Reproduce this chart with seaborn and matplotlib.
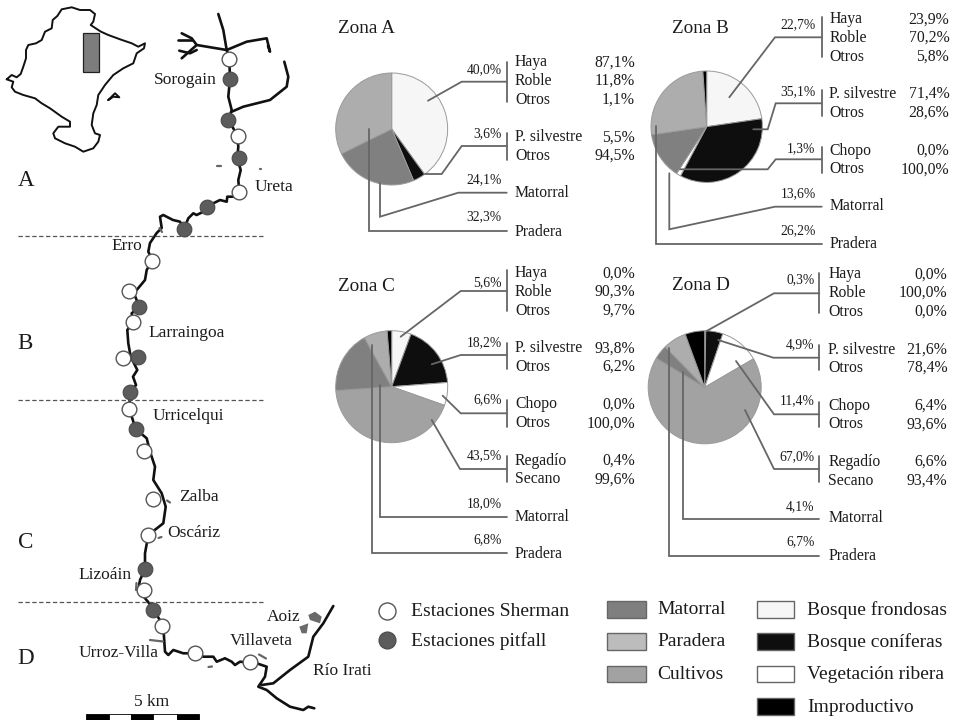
import matplotlib
matplotlib.use('Agg')
import matplotlib.pyplot as plt
from matplotlib.patches import Rectangle, Polygon
import seaborn as sns
import pandas as pd

# pie values, % of surface per zone
zona_a_vals = [40.0, 3.6, 24.1, 32.3]
zona_a_cats = ['frondosas', 'coniferas', 'matorral', 'pradera']
zona_b_vals = [22.7, 35.1, 1.3, 13.6, 26.2, 1.1]
zona_b_cats = ['frondosas', 'coniferas', 'ribera', 'matorral', 'pradera', 'improductivo']
zona_c_vals = [5.6, 18.2, 6.6, 43.5, 18.0, 6.8, 1.3]
zona_c_cats = ['frondosas', 'coniferas', 'ribera', 'cultivos', 'matorral', 'pradera', 'improductivo']
zona_d_vals = [0.3, 4.9, 11.4, 67.0, 4.1, 6.7, 5.6]
zona_d_cats = zona_c_cats

colores = {'frondosas': '#f6f6f6', 'coniferas': '#0e0e0e', 'ribera': '#ffffff', 'matorral': '#808080',
           'pradera': '#adadad', 'cultivos': '#a2a2a2', 'improductivo': '#000000'}

# map: river and outline, in picture pixels
rio_x = [226.7, 229.3, 230, 228.3, 231.7, 228.3, 233.3, 237.3, 238.3, 237.3, 240.7, 238.3, 239.3, 233.3, 227.3, 226.7, 220, 213.3, 207.3, 203.3, 196.7, 193.3, 188.3, 184.3, 180, 173, 163.3, 160, 161.7, 156.7, 150, 148.3, 152.3, 146.7, 145, 136.7, 133, 139.3, 131.7, 132.7, 127.3, 128.3, 130.7, 137.3, 133, 136, 130, 129.3, 135.7, 146.7, 150, 155, 153.3, 161.7, 165.7, 163.3, 148.3, 145, 145, 140, 138.3, 153.3, 163.3, 165, 168.3, 173.3, 183.3, 195, 203.3, 213.3, 216.7, 225, 231.7, 235, 240, 250, 256.7, 266.7, 265, 258.3, 266.7, 276.7, 290, 303.3, 308.3, 314.3]
rio_y = [50, 58.3, 79.3, 96.7, 110, 120, 128.3, 136, 146.7, 158.3, 170, 180, 191.7, 196.7, 196.7, 201.7, 200, 203.3, 206.7, 211.7, 215, 213.3, 218.3, 228.3, 221.7, 220, 215, 216.7, 228, 233, 243, 251.7, 260, 270, 280, 290, 291, 306.7, 313.3, 322.3, 330, 343.3, 356.7, 370, 376.7, 385, 392.3, 409, 429, 438.3, 451.7, 466.7, 480, 493.3, 506.7, 523.3, 535, 553.3, 569.3, 580, 590, 608.3, 626.7, 651.7, 655, 650, 653.3, 653.3, 656.7, 656.7, 661.7, 658.3, 661.7, 665, 661.7, 662.7, 663.3, 666.7, 676.7, 686.7, 690, 698.3, 706.7, 710, 706.7, 708.3]
irati_x = [333.3, 323.3, 313.3, 308.3, 290, 273.3, 261.7]
irati_y = [606, 623.3, 636.7, 656.7, 670, 683.3, 685]
afl_1_x = [218.3, 223.3, 226.7]
afl_1_y = [14, 30, 50]
afl_2_x = [226.7, 246.7, 266.7, 270, 268]
afl_2_y = [50, 41.7, 38.3, 51.7, 46]
afl_3_x = [226.7, 196.7, 181.7]
afl_3_y = [50, 45, 58.3]
afl_4_x = [196.7, 191.7, 181.7]
afl_4_y = [45, 38.3, 33.3]
afl_5_x = [191.7, 178.3]
afl_5_y = [40, 40]
afl_6_x = [196.7, 190, 179.3]
afl_6_y = [50, 53.3, 50.7]
afl_7_x = [231.7, 243.3, 270, 286.7, 288.3, 284.3]
afl_7_y = [111.7, 106.7, 100, 86.7, 76.7, 61.7]
navarra_x = [6.7, 11.7, 16.7, 20.7, 23.3, 26, 26, 28.3, 36, 41.7, 45, 51.7, 52.7, 57.3, 61.7, 71.7, 80, 90, 95, 93.3, 90.7, 98.3, 101, 108.3, 120, 131.7, 138.3, 145, 144, 136.7, 133.3, 123.3, 113.3, 105, 98.3, 96.7, 93.3, 91.7, 95, 100, 98.3, 93.3, 83.3, 75, 65, 55, 53.3, 58.3, 70, 70, 61.7, 50, 41.7, 35, 23.3, 15, 11.7, 13.3, 6.7]
navarra_y = [79.3, 75, 77.3, 74, 66.7, 58.3, 50, 45, 43.3, 40, 31.7, 28.3, 20, 16, 9.3, 7.3, 10, 10, 14, 21.7, 25, 30, 31.7, 35, 39.3, 43.3, 46.7, 43.3, 48.3, 53.3, 63.3, 68.3, 75, 85, 95, 105, 113.3, 125, 133.3, 135, 141.7, 148.3, 151.7, 146.7, 143.3, 138.3, 133.3, 126.7, 126.7, 121.7, 116.7, 108.3, 103.3, 98.3, 95, 91.7, 87.3, 81.7, 79.3]
enclave_x = [108.3, 115, 119.3, 113.3, 108.3]
enclave_y = [100, 93.3, 97.3, 96.7, 100]

sherman_x = [229.3, 237.7, 239.3, 152.3, 129.3, 132.7, 122.7, 129.3, 144.3, 152.7, 147.7, 144.3, 162.3, 195, 250]
sherman_y = [59.3, 135.7, 191.7, 260.7, 291, 322.3, 358.3, 409, 451, 499, 535, 590, 626, 653.3, 662.3]
pitfall_x = [230, 228.3, 238.7, 207.3, 184, 139.3, 137.7, 130, 135.7, 145, 153.3]
pitfall_y = [79.3, 120, 158.3, 206.7, 229, 306.7, 357.3, 392.3, 429, 569.3, 610]

plt.rcParams['figure.dpi'] = 100
sns.set_theme(style='white')
plt.rcParams['font.family'] = ['Liberation Serif', 'DejaVu Sans']

fig = plt.figure(figsize=(9.55, 7.2), dpi=100)
fig.patch.set_facecolor('white')


def tarta(cx, cy, r, vals, cats):
    m = 1.04
    a = fig.add_axes([(cx - r * m) / 955, 1 - (cy + r * m) / 720, 2 * r * m / 955, 2 * r * m / 720], zorder=1)
    a.pie(vals, colors=[colores[c] for c in cats], startangle=90, counterclock=False,
          wedgeprops={'edgecolor': '#9a9a9a', 'linewidth': 0.7})
    a.set_xlim(-m, m)
    a.set_ylim(-m, m)


tarta(391.7, 129, 56, zona_a_vals, zona_a_cats)
tarta(706.7, 126.7, 55.7, zona_b_vals, zona_b_cats)
tarta(391.7, 386.7, 56, zona_c_vals, zona_c_cats)
tarta(704.7, 387.3, 56.5, zona_d_vals, zona_d_cats)

ax = fig.add_axes([0, 0, 1, 1], zorder=2)
ax.patch.set_alpha(0)
ax.set_xlim(0, 955)
ax.set_ylim(720, 0)
ax.axis('off')


def linea(x, y, color='#111111', lw=1.9, **kw):
    df = pd.DataFrame({'x': x, 'y': y})
    sns.lineplot(data=df, x='x', y='y', sort=False, estimator=None, color=color, lw=lw, ax=ax, legend=False, **kw)
    ax.set_xlabel('')
    ax.set_ylabel('')


def txt(x, y, s, size=11.3, ha='left', color='#1c1c1c'):
    ax.text(x, y, s, fontsize=size, ha=ha, va='center', color=color, zorder=6)


# mapa
linea(navarra_x, navarra_y, lw=1.4)
linea(enclave_x, enclave_y, lw=1.4)
ax.add_patch(Rectangle((83.3, 33.3), 16, 38.4, fc='#7d7d7d', ec='#222222', lw=0.9, zorder=3))
for xs, ys in [(rio_x, rio_y), (irati_x, irati_y), (afl_1_x, afl_1_y), (afl_2_x, afl_2_y), (afl_3_x, afl_3_y),
               (afl_4_x, afl_4_y), (afl_5_x, afl_5_y), (afl_6_x, afl_6_y), (afl_7_x, afl_7_y)]:
    linea(xs, ys)
for yy in [236, 400, 602.3]:
    ax.plot([17.7, 265], [yy, yy], color='#555555', lw=0.9, ls=(0, (3.5, 2)), zorder=2)

sns.scatterplot(x=sherman_x, y=sherman_y, s=112, color='white', edgecolor='#555555', linewidth=1.0, ax=ax, zorder=5)
sns.scatterplot(x=pitfall_x, y=pitfall_y, s=112, color='#5c5c5c', edgecolor='#4a4a4a', linewidth=0.8, ax=ax, zorder=5)

for p in [[(299.3, 626.7), (308.3, 623.3), (306.7, 633.3), (301.7, 633.3)],
          [(308.3, 615), (315, 611.7), (321.7, 616.7), (320, 623.3), (310, 620)]]:
    ax.add_patch(Polygon(p, fc='#6a6a6a', ec='none', zorder=3))
# marcas sueltas de pueblos
for m in [[(150, 640), (163, 641.5)], [(216.5, 165.7), (221, 165.7)], [(259.5, 169.3), (261, 169.3)],
          [(167, 500.5), (170, 502.5)], [(158.5, 538), (161.5, 537)], [(259, 654.5), (266, 658.5)],
          [(208.5, 667), (212, 666.5)], [(136.5, 583), (136, 590)], [(159.5, 228), (162, 232)]]:
    ax.plot([p[0] for p in m], [p[1] for p in m], color='#666666', lw=1.6, zorder=3)

for x0, y0, s in [(154, 80.3, 'Sorogain'), (255, 186.7, 'Ureta'), (111.7, 246, 'Erro'), (148.3, 333.3, 'Larraingoa'),
                  (152.3, 416, 'Urricelqui'), (179, 497.3, 'Zalba'), (167.7, 532.7, 'Oscáriz'), (78.7, 575, 'Lizoáin'),
                  (78.3, 653.3, 'Urroz-Villa'), (266.7, 616.7, 'Aoiz'), (229.3, 640.7, 'Villaveta'),
                  (313.3, 670.7, 'Río Irati'), (134, 701.7, '5 km')]:
    txt(x0, y0, s, size=12.5)
for y0, s in [(180, 'A'), (343.3, 'B'), (542.7, 'C'), (658.3, 'D')]:
    txt(17.7, y0, s, size=16.6)

# escala
borde = [86, 109, 130.7, 153.3, 176.7, 199.3]
for i in range(5):
    ax.add_patch(Rectangle((borde[i], 714.3), borde[i + 1] - borde[i], 5.7, fc='black' if i % 2 == 0 else 'white',
                           ec='black', lw=0.6, zorder=3))

# guias de las tartas
gris = '#666666'
guias = [
    [(428, 100.7), (461.7, 81.7), (506.7, 81.7)], [(507, 61.7), (507, 101.7)],
    [(425, 174), (441.7, 174), (461.7, 146), (506.7, 146)], [(507, 132.7), (507, 160)],
    [(380, 183.3), (380, 216.7), (458.3, 192.7), (506.7, 192.7)],
    [(369.3, 129.3), (369.3, 230.7), (506.7, 230.7)],
    [(729.3, 97.3), (775, 37.3), (821.7, 37.3)], [(821.7, 16.7), (821.7, 57.3)],
    [(753.3, 129.3), (767.7, 129.3), (775.7, 103.3), (821.7, 103.3)], [(821.7, 90), (821.7, 116)],
    [(680, 169.3), (767.7, 169.3), (775.7, 159.3), (821.7, 159.3)], [(821.7, 146.7), (821.7, 172.7)],
    [(669.3, 173.3), (669.3, 229.3), (775, 206.7), (821.7, 206.7)],
    [(656, 126), (656, 244), (821.7, 244)],
    [(400.7, 336.7), (460.7, 291), (506.7, 291)], [(507, 270), (507, 311)],
    [(431.7, 364.3), (460.7, 355), (506.7, 355)], [(507, 343.3), (507, 369)],
    [(442.7, 395.7), (460.7, 413.3), (506.7, 413.3)], [(507, 400), (507, 427.3)],
    [(431.7, 420), (460, 469), (506.7, 469)], [(507, 455.7), (507, 482.3)],
    [(380, 385), (380, 517.3), (506.7, 517.3)],
    [(371.7, 345), (371.7, 553.3), (506.7, 553.3)],
    [(706.7, 331), (774, 293.3), (819.3, 293.3)], [(819.3, 273.3), (819.3, 313.3)],
    [(718.3, 340), (773.3, 357.7), (819.3, 357.7)], [(819.3, 345), (819.3, 370)],
    [(736, 361), (774, 414.3), (819.3, 414.3)], [(819.3, 401.7), (819.3, 427.3)],
    [(745, 410), (774, 469), (819.3, 469)], [(819.3, 455.7), (819.3, 482.3)],
    [(683.3, 371.7), (683.3, 519), (819.3, 519)],
    [(669.3, 347.7), (669.3, 555.7), (819.3, 555.7)],
]
for g in guias:
    ax.plot([p[0] for p in g], [p[1] for p in g], color=gris, lw=1.3, solid_joinstyle='miter', zorder=4)

# titulos
txt(337.7, 28.3, 'Zona A', size=13.8)
txt(672.3, 28.3, 'Zona B', size=13.8)
txt(337.7, 286.7, 'Zona C', size=13.8)
txt(672.3, 285.7, 'Zona D', size=13.8)

# porcentajes de cada tarta: (y, texto)
pct_a = [(69.3, '40,0%'), (134, '3,6%'), (179.3, '24,1%'), (216.7, '32,3%')]
pct_b = [(25, '22,7%'), (91.7, '35,1%'), (148.3, '1,3%'), (193.3, '13,6%'), (230.7, '26,2%')]
pct_c = [(282.3, '5,6%'), (342.7, '18,2%'), (400, '6,6%'), (455.7, '43,5%'), (503.3, '18,0%'), (540, '6,8%')]
pct_d = [(280, '0,3%'), (345, '4,9%'), (401, '11,4%'), (456.7, '67,0%'), (506.7, '4,1%'), (541.7, '6,7%')]
for x0, lista in [(501.7, pct_a), (815.7, pct_b), (501.7, pct_c), (814.3, pct_d)]:
    for y0, s in lista:
        txt(x0, y0, s, size=9.8, ha='right')

# desglose: (y, etiqueta, valor)
det_a = [(62.3, 'Haya', '87,1%'), (81, 'Roble', '11,8%'), (100, 'Otros', '1,1%'), (137.3, 'P. silvestre', '5,5%'),
         (156, 'Otros', '94,5%'), (193.3, 'Matorral', ''), (231.7, 'Pradera', '')]
det_b = [(19.3, 'Haya', '23,9%'), (37.7, 'Roble', '70,2%'), (56.7, 'Otros', '5,8%'), (94, 'P. silvestre', '71,4%'),
         (112.7, 'Otros', '28,6%'), (150.7, 'Chopo', '0,0%'), (169.3, 'Otros', '100,0%'), (206, 'Matorral', ''),
         (244.3, 'Pradera', '')]
det_c = [(273.3, 'Haya', '0,0%'), (291.7, 'Roble', '90,3%'), (310.7, 'Otros', '9,7%'), (348.3, 'P. silvestre', '93,8%'),
         (366.7, 'Otros', '6,2%'), (404.3, 'Chopo', '0,0%'), (423.3, 'Otros', '100,0%'), (460.7, 'Regadío', '0,4%'),
         (479.3, 'Secano', '99,6%'), (516.7, 'Matorral', ''), (554.3, 'Pradera', '')]
det_d = [(274.3, 'Haya', '0,0%'), (292.7, 'Roble', '100,0%'), (311.7, 'Otros', '0,0%'), (349.7, 'P. silvestre', '21,6%'),
         (367.7, 'Otros', '78,4%'), (406, 'Chopo', '6,4%'), (424.3, 'Otros', '93,6%'), (461.7, 'Regadío', '6,6%'),
         (481, 'Secano', '93,4%'), (518.3, 'Matorral', ''), (556, 'Pradera', '')]
for x0, x1, lista in [(515, 635, det_a), (829.3, 949.3, det_b), (515, 635, det_c), (828.3, 947.3, det_d)]:
    for y0, s, v in lista:
        txt(x0, y0, s)
        if v:
            txt(x1, y0, v, ha='right')

# leyenda
sns.scatterplot(x=[387], y=[611], s=150, color='white', edgecolor='#555555', linewidth=1.0, ax=ax, zorder=5)
sns.scatterplot(x=[387], y=[640.3], s=150, color='#5c5c5c', edgecolor='#4a4a4a', linewidth=0.8, ax=ax, zorder=5)
txt(410.9, 611, 'Estaciones Sherman', size=14)
txt(410.9, 641, 'Estaciones pitfall', size=14)
cajas = [(607.4, 601, '#7f7f7f', 'Matorral'), (607.4, 633, '#bcbcbc', 'Paradera'), (607.4, 665.7, '#a2a2a2', 'Cultivos'),
         (757, 601, '#f6f6f6', 'Bosque frondosas'), (757, 633, '#0e0e0e', 'Bosque coníferas'),
         (757, 665.7, '#ffffff', 'Vegetación ribera'), (757, 698, '#000000', 'Improductivo')]
for x0, y0, c, s in cajas:
    w = 38.2 if x0 < 700 else 37
    ax.add_patch(Rectangle((x0, y0), w, 16.5, fc=c, ec='#666666', lw=1.0, zorder=3))
    txt(x0 + (50.1 if x0 < 700 else 50), y0 + 9, s, size=14)

ax.set_xlim(0, 955)
ax.set_ylim(720, 0)
fig.savefig('out.png', dpi=100)
